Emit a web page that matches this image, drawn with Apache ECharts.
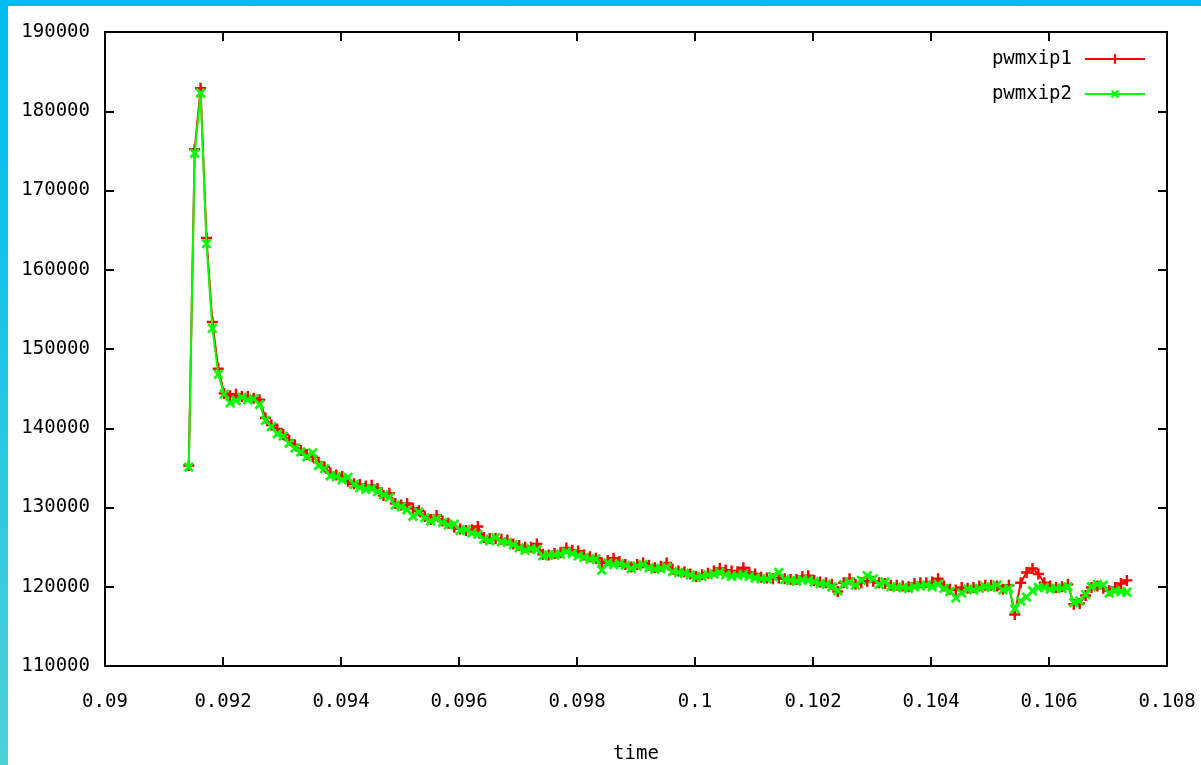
<!DOCTYPE html>
<html>
<head>
<meta charset="utf-8">
<script src="https://cdn.jsdelivr.net/npm/echarts@6/dist/echarts.min.js"></script>
<style>
  html, body { margin: 0; padding: 0; }
  #wrap { position: relative; width: 1201px; height: 765px; background: linear-gradient(to bottom, #00bdef 0%, #19c4e8 40%, #4ed0d8 100%); overflow: hidden; }
  #chart { position: absolute; left: 8px; top: 6px; width: 1193px; height: 759px; background: #ffffff; }
</style>
</head>
<body>
<div id="wrap"><div id="chart"></div></div>
<script>
// sampling of the time axis
const timeStart = 0.09142;
const timeStep = 0.0001;

// tick labels
const xTicks = [0.09, 0.092, 0.094, 0.096, 0.098, 0.1, 0.102, 0.104, 0.106, 0.108];
const yTicks = [110000, 120000, 130000, 140000, 150000, 160000, 170000, 180000, 190000];

const seriesNames = ['pwmxip1', 'pwmxip2'];

const pwmxip1 = [
  135300, 175200, 182900, 164000, 153400, 147500, 144400, 144100, 144300, 144000,
  144000, 143800, 143600, 141300, 140400, 139900, 139200, 138500, 137900, 137200,
  136700, 136400, 135700, 135100, 134400, 134100, 133900, 133300, 133000, 132900,
  132700, 132800, 132400, 131500, 131800, 130500, 130300, 130500, 129900, 129600,
  128900, 128500, 129000, 128300, 128000, 127500, 127300, 127100, 127200, 127600,
  126200, 126100, 126100, 126000, 125900, 125400, 125200, 125000, 125000, 125400,
  124100, 124000, 124200, 124300, 124900, 124600, 124500, 124000, 123800, 123600,
  123000, 123300, 123600, 123200, 122800, 122500, 122800, 123000, 122700, 122400,
  122600, 123000, 122200, 122000, 121900, 121600, 121300, 121500, 121700, 122000,
  122300, 122100, 122000, 121900, 122400, 121800, 121600, 121200, 121100, 121000,
  121100, 121000, 120900, 120900, 121300, 121400, 120800, 120600, 120500, 120300,
  119400, 120500, 121000, 120300, 120500, 120700, 120700, 120500, 120400, 120200,
  120200, 120100, 120000, 120400, 120500, 120500, 120600, 121000, 120100, 119700,
  119600, 119900, 119800, 119900, 120100, 120200, 120200, 120100, 119700, 120200,
  116500, 120500, 121800, 122300, 121600, 120500, 120100, 119900, 120000, 120300,
  117800, 117900, 118900, 119900, 120100, 119800, 119500, 119900, 120400, 120800
];

const pwmxip2 = [
  135100, 174700, 182300, 163300, 152600, 146800, 144300, 143200, 143500, 143900,
  143600, 143700, 143000, 141000, 140200, 139300, 139000, 138100, 137500, 137000,
  136400, 136900, 135300, 134900, 134000, 133900, 133500, 133800, 132900, 132500,
  132300, 132400, 132000, 131600, 131300, 130300, 130100, 129700, 128900, 129400,
  128700, 128300, 128600, 128100, 127800, 127900, 127100, 127200, 126800, 126600,
  126000, 125800, 126200, 125700, 125600, 125300, 124900, 124600, 124800, 124700,
  123900, 124000, 124000, 124100, 124400, 124200, 123900, 123700, 123500, 123500,
  122100, 123000, 122800, 122900, 122700, 122300, 122600, 122800, 122400, 122200,
  122300, 122500, 121900, 121800, 121700, 121500, 121200, 121300, 121500, 121600,
  121800, 121500, 121300, 121400, 121500, 121300, 121100, 121000, 121000, 121300,
  121800, 120900, 120800, 120700, 120900, 120800, 120600, 120400, 120300, 120000,
  119500, 120300, 120600, 120200, 120800, 121400, 121000, 120300, 120600, 120000,
  119900, 119900, 119800, 120000, 120100, 120200, 120000, 120300, 119800, 119400,
  118600, 119200, 119700, 119600, 119800, 120000, 119900, 120200, 119600, 119800,
  117200, 118200, 118700, 119500, 119900, 119900, 119700, 119800, 119800, 120000,
  118000, 118200, 119000, 120000, 120300, 120200, 119200, 119500, 119400, 119300
];

function pair(values) {
  return values.map((v, i) => [+(timeStart + i * timeStep).toFixed(6), v]);
}

const FONT = 'DejaVu Sans Mono';
const plusPath = 'path://M0,3.9L10,3.9L10,6.1L0,6.1ZM3.9,0L6.1,0L6.1,10L3.9,10Z';

const chart = echarts.init(document.getElementById('chart'), null, { renderer: 'canvas' });

const axisLine = { show: true, lineStyle: { color: '#000', width: 2 } };
const axisTick = { show: true, inside: true, length: 9, lineStyle: { color: '#000', width: 2 } };

chart.setOption({
  animation: false,
  backgroundColor: '#ffffff',
  grid: { left: 97, top: 26, right: 34, bottom: 99, containLabel: false, outerBoundsMode: 'none' },
  legend: {
    orient: 'vertical',
    align: 'right',
    right: 50,
    top: 38,
    itemWidth: 60,
    itemHeight: 12,
    itemGap: 15,
    data: seriesNames,
    textStyle: { fontFamily: FONT, fontSize: 19, color: '#000', lineHeight: 20, padding: [0, 8, 0, 0] }
  },
  xAxis: [
    {
      type: 'value', position: 'bottom',
      min: xTicks[0], max: xTicks[xTicks.length - 1], interval: 0.002,
      name: 'time', nameLocation: 'middle', nameGap: 79,
      nameTextStyle: { fontFamily: FONT, fontSize: 19, color: '#000' },
      axisLine: axisLine, axisTick: axisTick,
      splitLine: { show: false },
      axisLabel: {
        margin: 27, fontFamily: FONT, fontSize: 19, color: '#000',
        formatter: v => String(+v.toFixed(3))
      }
    },
    {
      type: 'value', position: 'top',
      min: xTicks[0], max: xTicks[xTicks.length - 1], interval: 0.002,
      axisLine: axisLine, axisTick: axisTick,
      splitLine: { show: false }, axisLabel: { show: false }
    }
  ],
  yAxis: [
    {
      type: 'value', position: 'left',
      min: yTicks[0], max: yTicks[yTicks.length - 1], interval: 10000,
      axisLine: axisLine, axisTick: axisTick,
      splitLine: { show: false },
      axisLabel: {
        margin: 15, fontFamily: FONT, fontSize: 19, color: '#000',
        formatter: v => String(v)
      }
    },
    {
      type: 'value', position: 'right',
      min: yTicks[0], max: yTicks[yTicks.length - 1], interval: 10000,
      axisLine: axisLine, axisTick: axisTick,
      splitLine: { show: false }, axisLabel: { show: false }
    }
  ],
  series: [
    {
      name: seriesNames[0], type: 'line', xAxisIndex: 0, yAxisIndex: 0,
      data: pair(pwmxip1),
      symbol: plusPath, symbolSize: 11, showAllSymbol: true,
      lineStyle: { color: '#ff0000', width: 2 },
      itemStyle: { color: '#ff0000' },
      z: 2
    },
    {
      name: seriesNames[1], type: 'line', xAxisIndex: 0, yAxisIndex: 0,
      data: pair(pwmxip2),
      symbol: plusPath, symbolRotate: 45, symbolSize: 12, showAllSymbol: true,
      lineStyle: { color: '#00ff00', width: 2 },
      itemStyle: { color: '#00ff00' },
      z: 3
    }
  ]
});
</script>
</body>
</html>
